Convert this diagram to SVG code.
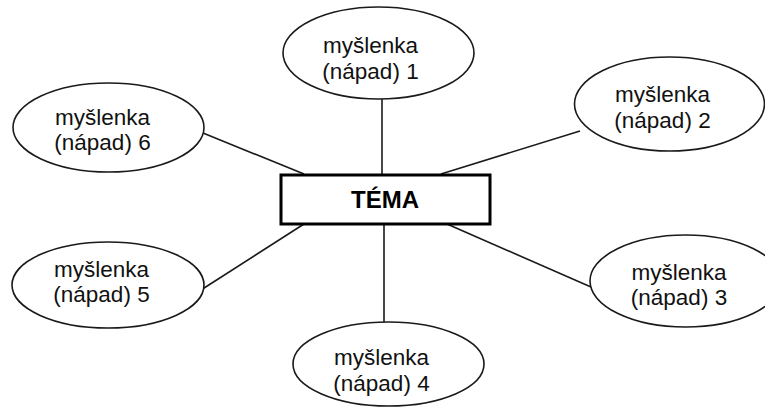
<svg xmlns="http://www.w3.org/2000/svg" width="765" height="408" viewBox="0 0 765 408">
  <style>
    .idea ellipse { fill: #ffffff; stroke: #1a1a1a; stroke-width: 1.6; }
    .idea text { font-family: "Liberation Sans", Arial, sans-serif; font-size: 22.5px; fill: #111111; text-anchor: middle; }
    #connectors line { stroke: #1a1a1a; stroke-width: 1.6; }
    #topic rect { fill: #ffffff; stroke: #000000; stroke-width: 3; }
    #topic text { font-family: "Liberation Sans", Arial, sans-serif; font-size: 24px; font-weight: bold; fill: #000000; text-anchor: middle; }
  </style>
  <rect width="765" height="408" fill="#ffffff"/>

  <g id="connectors">
    <line x1="382" y1="99" x2="382" y2="175"/>
    <line x1="441" y1="174" x2="580" y2="131"/>
    <line x1="447" y1="224" x2="591" y2="287"/>
    <line x1="384" y1="224" x2="384" y2="322"/>
    <line x1="304" y1="224" x2="201" y2="290"/>
    <line x1="304" y1="174" x2="203" y2="133"/>
  </g>

  <g id="topic">
    <rect x="281" y="175" width="209" height="49"/>
    <text x="385" y="207.5">TÉMA</text>
  </g>

  <g id="idea1" class="idea">
    <ellipse cx="378.5" cy="53" rx="95.5" ry="46"/>
    <text x="370.5" y="53">myšlenka</text>
    <text x="370.5" y="79">(nápad) 1</text>
  </g>

  <g id="idea2" class="idea">
    <ellipse cx="669.5" cy="104" rx="95" ry="47"/>
    <text x="662.5" y="102">myšlenka</text>
    <text x="662.5" y="128">(nápad) 2</text>
  </g>

  <g id="idea3" class="idea">
    <ellipse cx="685.5" cy="281" rx="95.5" ry="46"/>
    <text x="679" y="280">myšlenka</text>
    <text x="679" y="305">(nápad) 3</text>
  </g>

  <g id="idea4" class="idea">
    <ellipse cx="388.5" cy="364" rx="95.5" ry="42"/>
    <text x="381.5" y="365">myšlenka</text>
    <text x="381.5" y="391">(nápad) 4</text>
  </g>

  <g id="idea5" class="idea">
    <ellipse cx="108" cy="285" rx="96" ry="43"/>
    <text x="101.5" y="277">myšlenka</text>
    <text x="101.5" y="302">(nápad) 5</text>
  </g>

  <g id="idea6" class="idea">
    <ellipse cx="108.5" cy="127.5" rx="95.5" ry="44.5"/>
    <text x="102.5" y="125">myšlenka</text>
    <text x="102.5" y="150">(nápad) 6</text>
  </g>
</svg>
